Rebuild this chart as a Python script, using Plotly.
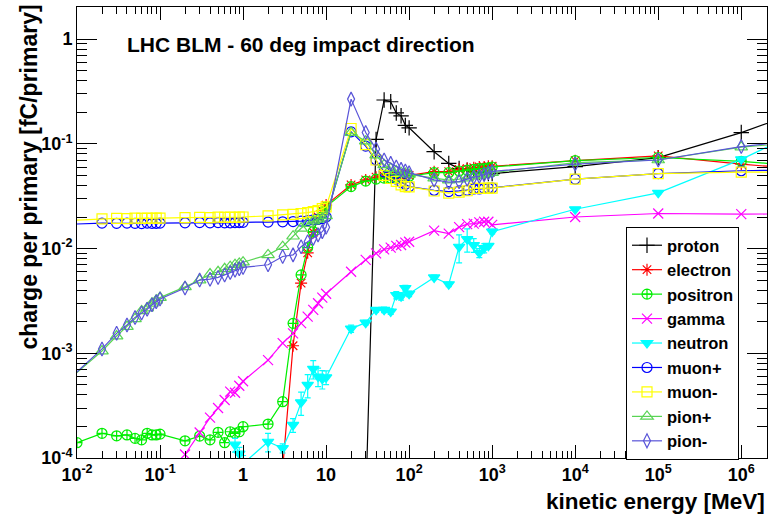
import plotly.graph_objects as go

# ---------------- data ----------------
proton_E = [30, 40, 50, 60, 70, 80, 90, 100,
            200, 300, 400, 500, 600, 700, 800, 900, 1000,
            1e4, 1e5, 1e6, 1e7]
proton_Q = [3.6e-5, 0.11, 0.262, 0.252, 0.197, 0.185, 0.15, 0.142,
            0.084, 0.065, 0.058, 0.056, 0.054, 0.053, 0.052, 0.052, 0.052,
            0.0605, 0.0737, 0.128, 0.245]

electron_E = [3, 4, 5, 6, 7, 8, 9, 10,
              20, 30, 40, 50, 60, 70, 80, 90, 100,
              200, 300, 400, 500, 600, 700, 800, 900, 1000,
              1e4, 1e5, 1e6, 1e7]
electron_Q = [8e-5, 1.18e-3, 4.67e-3, 9.1e-3, 0.0143, 0.02, 0.023, 0.026,
              0.0405, 0.0452, 0.048, 0.049, 0.0485, 0.049, 0.0495, 0.05, 0.05,
              0.0542, 0.0542, 0.057, 0.058, 0.059, 0.06, 0.06, 0.061, 0.061,
              0.069, 0.0766, 0.064, 0.055]

positron_E = [0.01, 0.02, 0.03, 0.04, 0.05, 0.06, 0.07, 0.08, 0.09, 0.1,
              0.2, 0.3, 0.4, 0.5, 0.6, 0.7, 0.8, 0.9, 1,
              2, 3, 4, 5, 6, 7, 8, 9, 10,
              20, 30, 40, 50, 60, 70, 80, 90, 100,
              200, 300, 400, 500, 600, 700, 800, 900, 1000,
              1e4, 1e5, 1e6, 1e7]
positron_Q = [1.4e-4, 1.72e-4, 1.63e-4, 1.66e-4, 1.54e-4, 1.49e-4, 1.72e-4, 1.66e-4, 1.66e-4, 1.69e-4,
              1.46e-4, 1.62e-4, 1.49e-4, 1.76e-4, 1.4e-4, 1.78e-4, 1.72e-4, 1.78e-4, 1.99e-4,
              2.11e-4, 3.45e-4, 1.93e-3, 5.6e-3, 0.0102, 0.0145, 0.019, 0.022, 0.025,
              0.039, 0.044, 0.046, 0.047, 0.047, 0.048, 0.048, 0.048, 0.049,
              0.053, 0.053, 0.055, 0.056, 0.057, 0.058, 0.058, 0.059, 0.06,
              0.069, 0.074, 0.068, 0.059]

gamma_E = [0.2, 0.3, 0.4, 0.5, 0.6, 0.7, 0.8, 0.9, 1,
           2, 3, 4, 5, 6, 7, 8, 9, 10,
           20, 30, 40, 50, 60, 70, 80, 90, 100,
           200, 300, 400, 500, 600, 700, 800, 900, 1000,
           1e4, 1e5, 1e6, 1e7]
gamma_Q = [1.08e-4, 1.75e-4, 2.43e-4, 3.0e-4, 3.58e-4, 4.3e-4, 4.2e-4, 4.9e-4, 5.4e-4,
           8.6e-4, 1.25e-3, 1.55e-3, 1.94e-3, 2.24e-3, 2.6e-3, 3.0e-3, 3.4e-3, 3.7e-3,
           6.0e-3, 7.8e-3, 9.0e-3, 9.8e-3, 0.0102, 0.0106, 0.0108, 0.0114, 0.0116,
           0.0148, 0.0139, 0.016, 0.0171, 0.0173, 0.0178, 0.018, 0.018, 0.0168,
           0.020, 0.0216, 0.0213, 0.0215]

neutron_E = [0.8, 0.9, 1,
             2, 3, 4, 5, 6, 7, 8, 9, 10,
             20, 30, 40, 50, 60, 70, 80, 90, 100,
             200, 300, 400, 500, 600, 700, 800, 900, 1000,
             1e4, 1e5, 1e6, 1e7]
neutron_Q = [1.34e-4, 1.1e-4, 8.8e-5,
             1.43e-4, 1.24e-4, 2.07e-4, 3.4e-4, 5.0e-4, 7.1e-4, 6.0e-4, 5.7e-4, 5.9e-4,
             1.72e-3, 1.96e-3, 2.6e-3, 2.6e-3, 2.5e-3, 3.6e-3, 3.5e-3, 4.2e-3, 3.7e-3,
             5.3e-3, 4.56e-3, 0.0104, 0.0123, 0.0108, 0.0091, 0.0101, 0.0106, 0.0145,
             0.0237, 0.034, 0.071, 0.17]
neutron_relerr = [0.15, 0.15, 0.2,
                  0.2, 0.1, 0.15, 0.25, 0.25, 0.2, 0.2, 0.2, 0.15,
                  0.08, 0.05, 0.05, 0.06, 0.06, 0.08, 0.08, 0.06, 0.06,
                  0.05, 0.05, 0.3, 0.25, 0.15, 0.1, 0.1, 0.05, 0.05,
                  0.03, 0.03, 0.03, 0.03]

muplus_E = [0.005, 0.02, 0.03, 0.04, 0.05, 0.06, 0.07, 0.08, 0.09, 0.1,
            0.2, 0.3, 0.4, 0.5, 0.6, 0.7, 0.8, 0.9, 1,
            2, 3, 4, 5, 6, 7, 8, 9, 10,
            20, 30, 40, 50, 60, 70, 80, 90, 100,
            200, 300, 400, 500, 600, 700, 800, 900, 1000,
            1e4, 1e5, 1e6, 1e7]
muplus_Q = [0.0168, 0.0175, 0.0174, 0.0175, 0.0174, 0.0173, 0.0175, 0.0174, 0.0174, 0.0175,
            0.0176, 0.0177, 0.0176, 0.0177, 0.0176, 0.0176, 0.0177, 0.0177, 0.0178,
            0.0179, 0.018, 0.0181, 0.0183, 0.0185, 0.0188, 0.019, 0.0193, 0.0200,
            0.13, 0.095, 0.07, 0.054, 0.05, 0.046, 0.043, 0.041, 0.039,
            0.036, 0.035, 0.0355, 0.036, 0.037, 0.037, 0.0375, 0.0378, 0.038,
            0.046, 0.052, 0.0553, 0.057]

muminus_E = muplus_E
muminus_Q = [0.0182, 0.0192, 0.0194, 0.0193, 0.0195, 0.0194, 0.0195, 0.0194, 0.0195, 0.0195,
             0.0197, 0.0198, 0.0197, 0.0199, 0.0198, 0.0199, 0.0198, 0.0200, 0.0200,
             0.0205, 0.021, 0.0212, 0.0215, 0.022, 0.0225, 0.023, 0.024, 0.025,
             0.14, 0.098, 0.07, 0.05, 0.0466, 0.0437, 0.0405, 0.039, 0.0388,
             0.0354, 0.0338, 0.0346, 0.0356, 0.0375, 0.0375, 0.0376, 0.0377, 0.0378,
             0.046, 0.052, 0.0536, 0.054]

pionplus_E = muplus_E
pionplus_Q = [4.1e-4, 0.00105, 0.00146, 0.0018, 0.00213, 0.00254, 0.0027, 0.003, 0.0032, 0.0034,
              0.0043, 0.005, 0.0057, 0.006, 0.0064, 0.0067, 0.007, 0.0072, 0.0074,
              0.0087, 0.0104, 0.0131, 0.0156, 0.0173, 0.0183, 0.019, 0.0195, 0.0205,
              0.128, 0.106, 0.078, 0.063, 0.058, 0.055, 0.053, 0.052, 0.051,
              0.047, 0.045, 0.046, 0.047, 0.049, 0.05, 0.051, 0.052, 0.053,
              0.066, 0.07, 0.093, 0.108]

pionminus_E = muplus_E
pionminus_Q = [4.0e-4, 0.0011, 0.00155, 0.00186, 0.0022, 0.00242, 0.00263, 0.0029, 0.0031, 0.0033,
               0.0042, 0.0050, 0.0051, 0.0053, 0.0056, 0.0059, 0.0062, 0.0064, 0.0066,
               0.0070, 0.0084, 0.0087, 0.0104, 0.0116, 0.0125, 0.0135, 0.0145, 0.016,
               0.267, 0.128, 0.089, 0.070, 0.065, 0.060, 0.057, 0.055, 0.053,
               0.0452, 0.043, 0.0435, 0.046, 0.048, 0.049, 0.051, 0.053, 0.0545,
               0.064, 0.070, 0.094, 0.115]

x_tickvals = [1e-2, 1e-1, 1, 10, 1e2, 1e3, 1e4, 1e5, 1e6]
x_ticktext = ["10<sup>-2</sup>", "10<sup>-1</sup>", "1", "10", "10<sup>2</sup>",
              "10<sup>3</sup>", "10<sup>4</sup>", "10<sup>5</sup>", "10<sup>6</sup>"]
y_tickvals = [1e-4, 1e-3, 1e-2, 1e-1, 1]
y_ticktext = ["10<sup>-4</sup>", "10<sup>-3</sup>", "10<sup>-2</sup>", "10<sup>-1</sup>", "1"]

title_text = "LHC BLM - 60 deg impact direction"
x_title = "kinetic energy [MeV]"
y_title = "charge per primary [fC/primary]"

# ---------------- figure ----------------
FONT = "Liberation Sans, Arial, Helvetica, sans-serif"

series = [
    ("proton", proton_E, proton_Q, "#000000", "cross-thin-open", 11, None),
    ("electron", electron_E, electron_Q, "#ff0000", "asterisk-open", 10, None),
    ("positron", positron_E, positron_Q, "#00ee00", "circle-cross-open", 10, None),
    ("gamma", gamma_E, gamma_Q, "#ff00ff", "x-thin-open", 10, None),
    ("neutron", neutron_E, neutron_Q, "#00ffff", "triangle-down", 10, neutron_relerr),
    ("muon+", muplus_E, muplus_Q, "#0000ff", "circle-open", 10, None),
    ("muon-", muminus_E, muminus_Q, "#ffff00", "square-open", 10, None),
    ("pion+", pionplus_E, pionplus_Q, "#59d454", "triangle-up-open", 11, None),
    ("pion-", pionminus_E, pionminus_Q, "#5954d8", "diamond-tall-open", 10, None),
]

fig = go.Figure()
for name, xs, ys, col, sym, size, rel in series:
    kw = {}
    if rel is not None:
        kw["error_y"] = dict(type="data", array=[v * r for v, r in zip(ys, rel)],
                             color=col, thickness=1.2, width=3)
    fig.add_trace(go.Scatter(
        x=xs, y=ys, name=name, mode="lines+markers",
        line=dict(color=col, width=1.2),
        marker=dict(symbol=sym, size=size, color=col,
                    line=dict(color=col, width=1.2)),
        **kw))

def minor_vals(d0, d1):
    return [k * 10.0 ** d for d in range(d0, d1 + 1) for k in range(2, 10)]

fig.update_xaxes(
    type="log", range=[-2, 6.31],
    tickmode="array", tickvals=x_tickvals, ticktext=x_ticktext,
    ticks="inside", ticklen=13, tickwidth=1, tickcolor="black",
    minor=dict(tickmode="array", tickvals=minor_vals(-2, 6), ticks="inside",
               ticklen=7, tickwidth=1, tickcolor="black", showgrid=False),
    showline=True, linecolor="black", linewidth=1, mirror="allticks",
    showgrid=False, zeroline=False,
    tickfont=dict(family=FONT, size=18, color="black", weight="bold"),
)
fig.update_yaxes(
    type="log", range=[-4, 0.306],
    tickmode="array", tickvals=y_tickvals, ticktext=y_ticktext,
    ticks="inside", ticklen=20, tickwidth=1, tickcolor="black",
    minor=dict(tickmode="array", tickvals=minor_vals(-4, 0), ticks="inside",
               ticklen=10, tickwidth=1, tickcolor="black", showgrid=False),
    showline=True, linecolor="black", linewidth=1, mirror="allticks",
    showgrid=False, zeroline=False,
    tickfont=dict(family=FONT, size=18, color="black", weight="bold"),
)

fig.add_annotation(text=title_text, xref="paper", yref="paper",
                   x=(125 - 77) / 690, y=(458 - 44) / 451, xanchor="left", yanchor="middle",
                   showarrow=False,
                   font=dict(family=FONT, size=21, color="black", weight="bold"))
fig.add_annotation(text=x_title, xref="paper", yref="paper",
                   x=1.0, y=(458 - 487) / 451, xanchor="right", yanchor="top",
                   showarrow=False,
                   font=dict(family=FONT, size=22.5, color="black", weight="bold"))
fig.add_annotation(text=y_title, xref="paper", yref="paper", textangle=-90,
                   x=(28 - 77) / 690, y=(458 - 3) / 451, xanchor="center", yanchor="top",
                   showarrow=False,
                   font=dict(family=FONT, size=23, color="black", weight="bold"))

fig.update_layout(
    width=770, height=515,
    margin=dict(l=77, r=3, t=7, b=57),
    paper_bgcolor="white", plot_bgcolor="white",
    showlegend=True,
    legend=dict(x=(626 - 77) / 690, y=(458 - 227) / 451, xanchor="left", yanchor="top",
                bgcolor="white", bordercolor="black", borderwidth=1,
                font=dict(family=FONT, size=16.5, color="black", weight="bold"),
                itemwidth=30, tracegroupgap=0),
)

fig.write_html("out.html")
